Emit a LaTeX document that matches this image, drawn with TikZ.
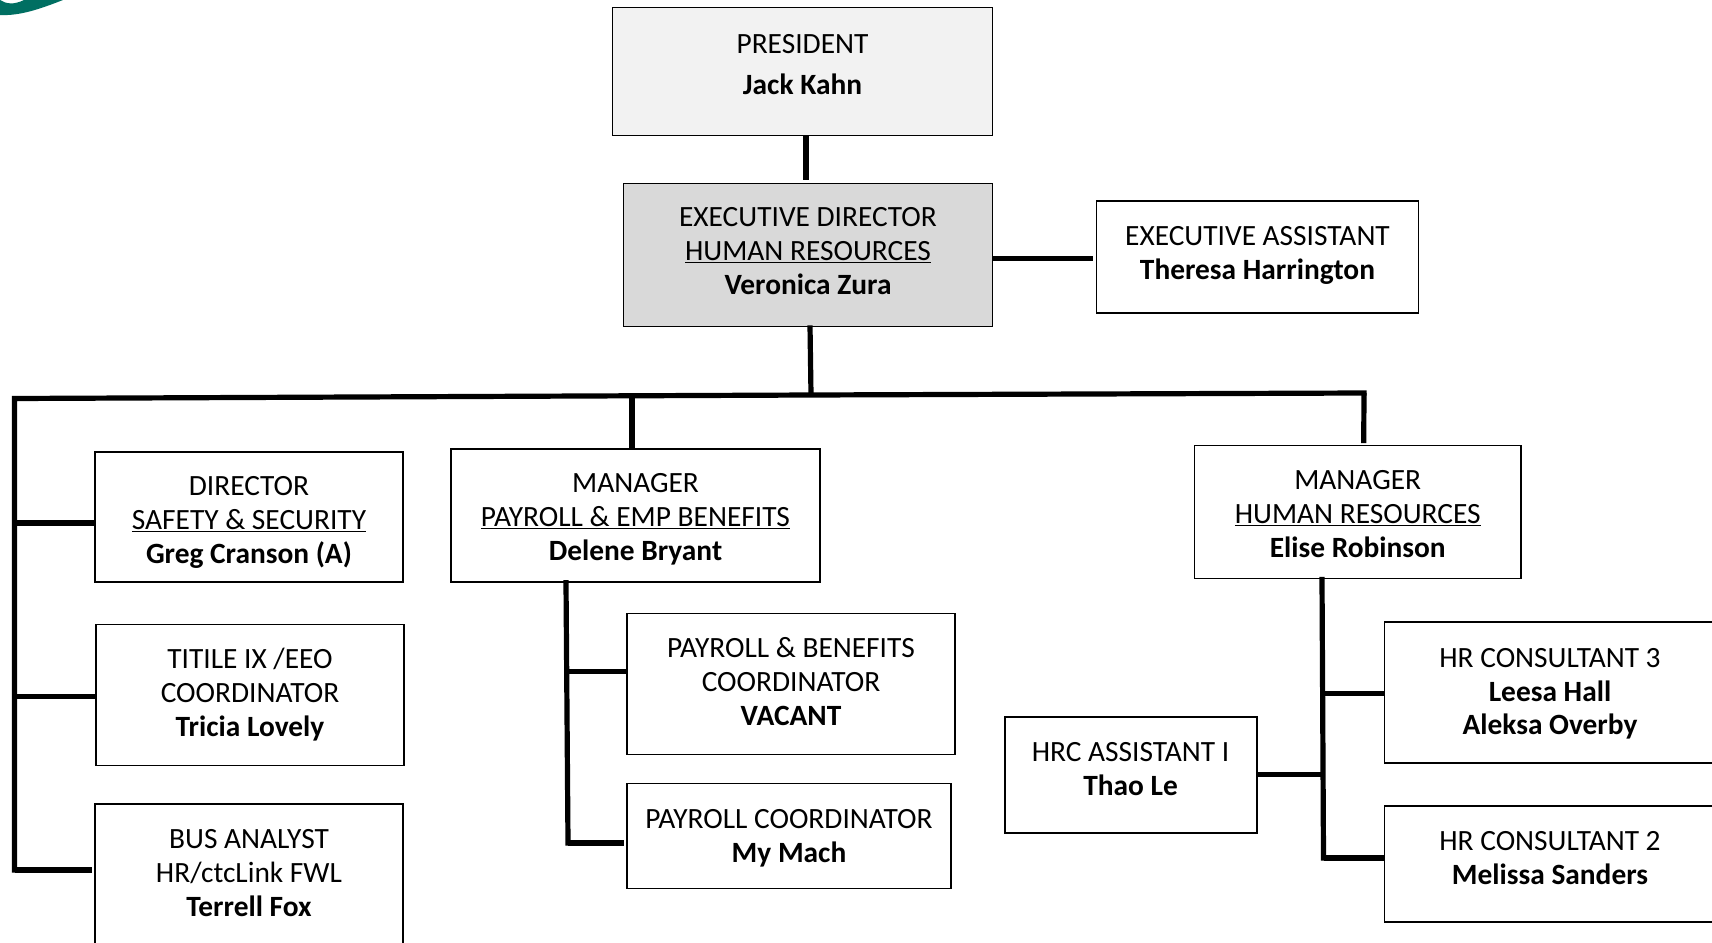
\documentclass[tikz,border=0pt]{standalone}
\usepackage{fontspec}
\setmainfont{Carlito}
\usepackage{tikz}
\usetikzlibrary{positioning}
\newcommand{\liftby}[1]{\rule[\dimexpr-10pt-#1-#1\relax]{0pt}{0pt}}
\newcommand{\dropby}[1]{\rule{0pt}{\dimexpr23.5pt+#1+#1\relax}}
\definecolor{logoteal}{HTML}{006F62}
\tikzset{
    staffbox/.style={
        rectangle,
        draw=black, line width=1.8pt,
        inner sep=0pt,
        align=center,
        font=\fontsize{29.4}{33.8}\selectfont
    },
    connline/.style={draw=black, line width=5.2pt, line cap=rect},
    boxsize/.style 2 args={minimum width=#1pt, minimum height=#2pt}
}
\begin{document}
\begin{tikzpicture}[x=1pt, y=-1pt]
    \clip (0,0) rectangle (1712,942);
    \fill[white] (0,0) rectangle (1712,942);
    \fill[logoteal] (0,0) .. controls (6,4) and (14,5) .. (24,0) -- (63,0)
        .. controls (40,9) and (20,16) .. (0,15) -- cycle;

    \node[staffbox, boxsize={380}{128}, fill=black!5] (president) at (802.5,71.5)
        {\strut PRESIDENT\\[7pt]\textbf{Jack Kahn}\liftby{4.2pt}};
    \node[staffbox, boxsize={369}{143}, fill=black!15] (execdir) at (808,255)
        {\strut EXECUTIVE DIRECTOR\\\underline{HUMAN RESOURCES}\\\textbf{Veronica Zura}\liftby{1.2pt}};
    \node[staffbox, boxsize={322}{112.5}] (execasst) at (1257.5,257)
        {\strut EXECUTIVE ASSISTANT\\\textbf{Theresa Harrington}\liftby{1.4pt}};

    \node[staffbox, boxsize={308}{130}] (safety) at (249,517)
        {\dropby{5.6pt}DIRECTOR\\\underline{SAFETY \& SECURITY}\\\textbf{Greg Cranson (A)}\strut};
    \node[staffbox, boxsize={308}{141}] (titleix) at (250,695)
        {\dropby{1pt}TITILE IX /EEO\\COORDINATOR\\\textbf{Tricia Lovely}\strut};
    \node[staffbox, boxsize={308}{164}] (analyst) at (249,886)
        {\strut BUS ANALYST\\HR/ctcLink FWL\\\textbf{Terrell Fox}\liftby{10.3pt}};

    \node[staffbox, boxsize={369}{133}] (mgrpayroll) at (635.5,515.4)
        {\dropby{4.7pt}MANAGER\\\underline{PAYROLL \& EMP BENEFITS}\\\textbf{Delene Bryant}\strut};
    \node[staffbox, boxsize={328.6}{141}] (paybenefits) at (791,684)
        {\dropby{1pt}PAYROLL \& BENEFITS\\COORDINATOR\\\textbf{VACANT}\strut};
    \node[staffbox, boxsize={324}{105}] (paycoord) at (789,836)
        {\dropby{3.2pt}PAYROLL COORDINATOR\\\textbf{My Mach}\strut};

    \node[staffbox, boxsize={326.5}{133}] (mgrhr) at (1357.7,512)
        {\dropby{5pt}MANAGER\\\underline{HUMAN RESOURCES}\\\textbf{Elise Robinson}\strut};
    \node[staffbox, boxsize={252}{116}] (hrcasst) at (1130.6,775)
        {\strut HRC ASSISTANT I\\\textbf{Thao Le}\liftby{3pt}};
    \node[staffbox, boxsize={331}{141}] (consultthree) at (1550,692.7)
        {\dropby{1.7pt}HR CONSULTANT 3\\\textbf{Leesa Hall}\\\textbf{Aleksa Overby}\strut};
    \node[staffbox, boxsize={331}{116}] (consulttwo) at (1550,863.6)
        {\strut HR CONSULTANT 2\\\textbf{Melissa Sanders}\liftby{3.2pt}};

    \coordinate (busleft) at (14.5,398.5);
    \coordinate (busmid) at (811,395);
    \coordinate (busright) at (1364,393);
    \coordinate (buspayroll) at (632,397);
    \coordinate (leftend) at (14.5,870);
    \coordinate (payrollend) at (568,843);
    \coordinate (hrend) at (1323.5,858);

    \draw[connline, line cap=butt] ([xshift=3.5pt]president.south) -- ([xshift=-2pt, yshift=3pt]execdir.north);
    \draw[connline, line cap=butt] ([yshift=-3.7pt]execdir.east) -- ([xshift=-3pt, yshift=-1.7pt]execasst.west);
    \draw[connline, line cap=butt] ([xshift=2pt, yshift=2pt]execdir.south) -- (busmid);
    \draw[connline] (leftend) -- (busleft) -- (busmid) -- (busright);
    \draw[connline, line cap=butt] (busright) -- ([xshift=6pt, yshift=1.5pt]mgrhr.north);
    \draw[connline, line cap=butt] (buspayroll) -- (buspayroll |- mgrpayroll.north);

    \draw[connline, line cap=butt] (busleft |- safety.west) ++(0,6) -- ([yshift=-6pt]safety.west);
    \draw[connline, line cap=butt] (busleft |- titleix.west) ++(0,1.5) -- ([yshift=-1.5pt]titleix.west);
    \draw[connline, line cap=butt] (leftend) -- ([xshift=-2pt, yshift=16pt]analyst.west);

    \draw[connline] ([xshift=-69.5pt]mgrpayroll.south) -- (payrollend);
    \draw[connline, line cap=butt] (payrollend |- paybenefits.west) ++(0,-12.5) -- ([yshift=12.5pt]paybenefits.west);
    \draw[connline, line cap=butt] (payrollend) -- ([xshift=-2pt, yshift=-7pt]paycoord.west);

    \draw[connline] ([xshift=-35.7pt]mgrhr.south) -- (hrend);
    \draw[connline, line cap=butt] (hrend |- consultthree.west) ++(0,1) -- ([yshift=-1pt]consultthree.west);
    \draw[connline, line cap=butt] ([yshift=0.5pt]hrcasst.east) -- ([yshift=0.5pt]hrend |- hrcasst.east);
    \draw[connline, line cap=butt] (hrend) -- ([yshift=5.6pt]consulttwo.west);
\end{tikzpicture}
\end{document}
